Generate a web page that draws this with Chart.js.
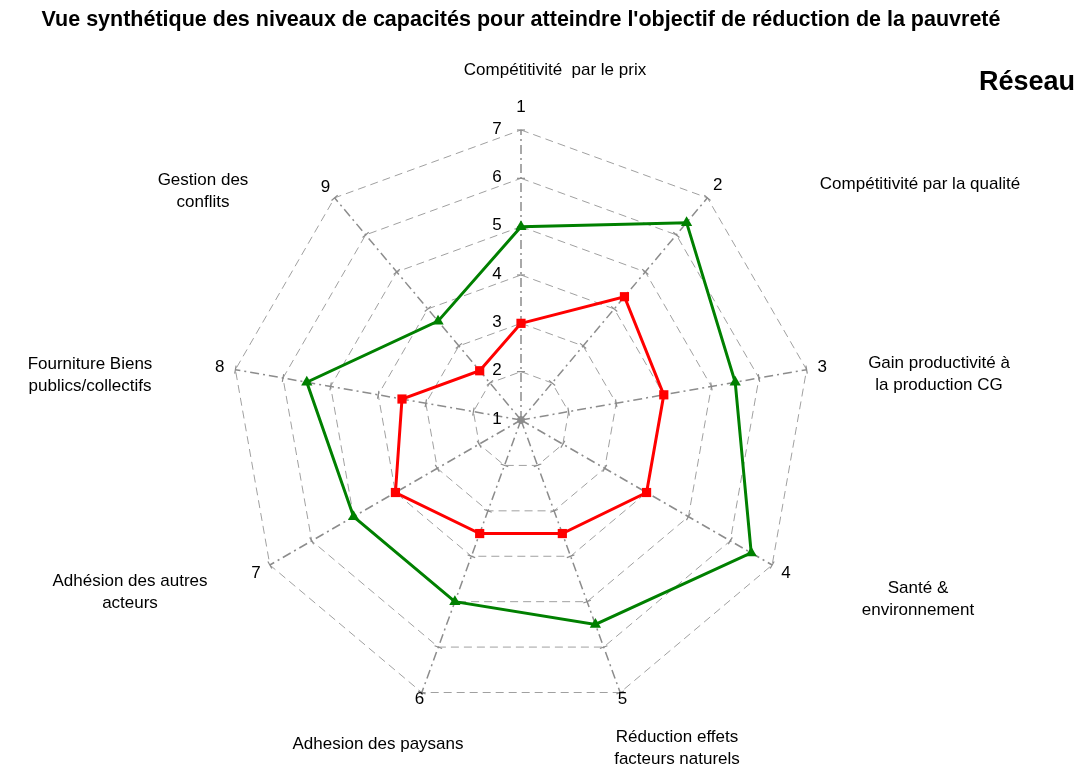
<!DOCTYPE html>
<html>
<head>
<meta charset="utf-8">
<script src="https://cdn.jsdelivr.net/npm/chart.js@4"></script>
<style>
  html, body { margin: 0; padding: 0; background: #fff; }
  #wrap { width: 1082px; height: 767px; position: relative; }
</style>
</head>
<body>
<div id="wrap"><canvas id="c" width="1082" height="767"></canvas></div>
<script>
// ---- data ----
const axisNumbers = ['1', '2', '3', '4', '5', '6', '7', '8', '9'];
const axisNames = [
  ['Compétitivité  par le prix'],
  ['Compétitivité par la qualité'],
  ['Gain productivité à', 'la production CG'],
  ['Santé &', 'environnement'],
  ['Réduction effets', 'facteurs naturels'],
  ['Adhesion des paysans'],
  ['Adhésion des autres', 'acteurs'],
  ['Fourniture Biens', 'publics/collectifs'],
  ['Gestion des', 'conflits']
];
const seriesGreen = [5, 6.33, 5.5, 6.5, 5.5, 5, 5, 5.5, 3.67];
const seriesRed = [3, 4.33, 4, 4, 3.5, 3.5, 4, 3.5, 2.33];
const tickValues = [1, 2, 3, 4, 5, 6, 7];
const titleText = "Vue synthétique des niveaux de capacités pour atteindre l'objectif de réduction de la pauvreté";
const cornerText = 'Réseau';

// ---- layout (label placement relative to the radar centre) ----
const nameOffsets = [
  [34, -350], [399, -236], [418, -57], [397, 168], [156, 317],
  [-143, 324], [-391, 161], [-431, -56], [-318, -240]
];
const numberPads = [23, 16, 16, 16, 7, 7, 16, 16, 14];
const FONT = '"Liberation Sans", Arial, sans-serif';

const decor = {
  id: 'decor',
  beforeDatasetsDraw(chart) {
    const s = chart.scales.r;
    const ctx = chart.ctx;
    const n = axisNumbers.length;
    ctx.save();
    ctx.strokeStyle = '#8c8c8c';
    ctx.lineWidth = 1.2;
    ctx.setLineDash([]);
    for (let i = 0; i < n; i++) {
      const ang = s.getIndexAngle(i) - Math.PI / 2;
      const px = -Math.sin(ang), py = Math.cos(ang);
      tickValues.forEach(v => {
        const p = s.getPointPosition(i, s.getDistanceFromCenterForValue(v));
        ctx.beginPath();
        ctx.moveTo(p.x - px * 4, p.y - py * 4);
        ctx.lineTo(p.x + px * 4, p.y + py * 4);
        ctx.stroke();
      });
    }
    ctx.restore();
  },
  afterDraw(chart) {
    const s = chart.scales.r;
    const ctx = chart.ctx;
    const cx = s.xCenter, cy = s.yCenter;
    ctx.save();
    ctx.fillStyle = '#000';
    ctx.textAlign = 'center';
    ctx.textBaseline = 'middle';
    // title
    ctx.font = 'bold 21.5px ' + FONT;
    ctx.fillText(titleText, cx, 20);
    // corner
    ctx.textAlign = 'right';
    ctx.font = 'bold 27px ' + FONT;
    ctx.fillText(cornerText, 1075, 83);
    // tick labels
    ctx.textAlign = 'center';
    ctx.font = '17px ' + FONT;
    tickValues.forEach(v => {
      const d = s.getDistanceFromCenterForValue(v);
      ctx.fillText(String(v), cx - 24, cy - d - 1);
    });
    // axis numbers
    axisNumbers.forEach((t, i) => {
      const p = s.getPointPosition(i, s.drawingArea + numberPads[i]);
      ctx.fillText(t, p.x, p.y);
    });
    // axis names
    axisNames.forEach((lines, i) => {
      const [dx, dy] = nameOffsets[i];
      lines.forEach((ln, k) => ctx.fillText(ln, cx + dx, cy + dy + k * 22));
    });
    ctx.restore();
  }
};

new Chart(document.getElementById('c'), {
  type: 'radar',
  data: {
    labels: axisNumbers,
    datasets: [
      {
        label: 'Série 1',
        data: seriesRed,
        borderColor: '#ff0000',
        backgroundColor: '#ff0000',
        borderWidth: 3,
        fill: false,
        pointStyle: 'rect',
        pointRadius: 6.5,
        pointBorderWidth: 0,
        pointBackgroundColor: '#ff0000'
      },
      {
        label: 'Série 2',
        data: seriesGreen,
        borderColor: '#008000',
        backgroundColor: '#008000',
        borderWidth: 3,
        fill: false,
        pointStyle: 'triangle',
        pointRadius: 6.5,
        pointBorderWidth: 0,
        pointBackgroundColor: '#008000'
      }
    ]
  },
  options: {
    responsive: false,
    animation: false,
    devicePixelRatio: 1,
    layout: { padding: { top: 130, bottom: 57, left: 231, right: 271 } },
    plugins: {
      legend: { display: false },
      title: { display: false },
      tooltip: { enabled: false }
    },
    elements: { line: { tension: 0 } },
    scales: {
      r: {
        min: 1,
        max: 7,
        ticks: { stepSize: 1, display: false },
        pointLabels: { display: false },
        grid: { color: '#a0a0a0', lineWidth: 1 },
        border: { dash: [8, 5] },
        angleLines: {
          display: true,
          color: '#8c8c8c',
          lineWidth: 1.5,
          borderDash: [9, 4, 2, 4]
        }
      }
    }
  },
  plugins: [decor]
});
</script>
</body>
</html>
